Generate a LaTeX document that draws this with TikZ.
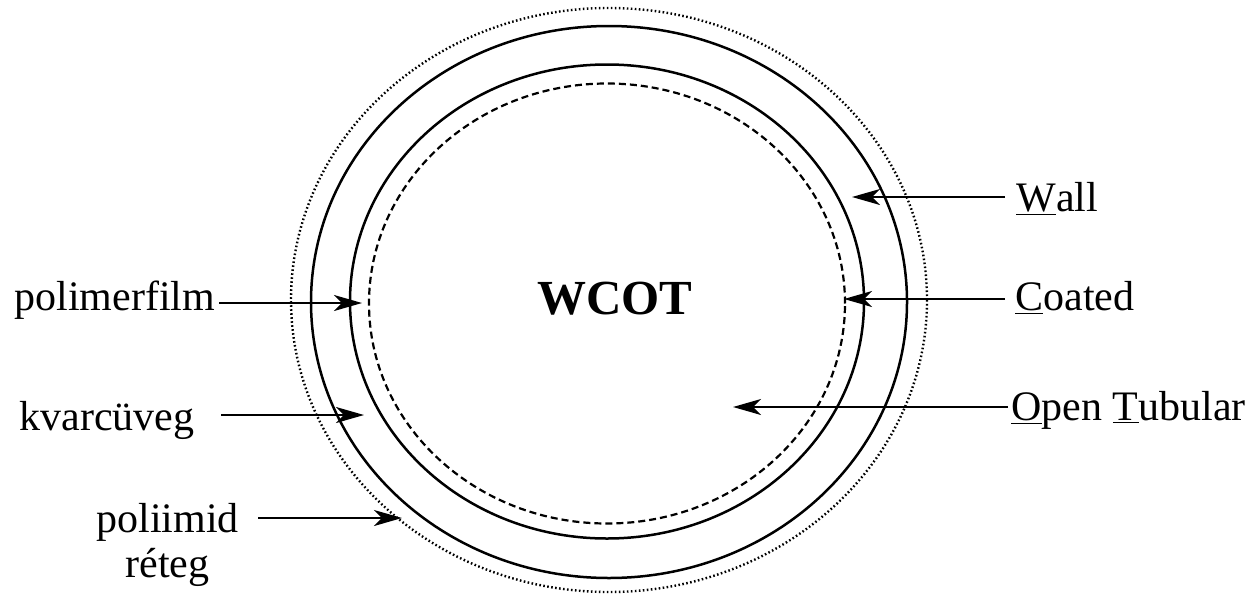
\documentclass[tikz,border=0pt]{standalone}
\usepackage{fontspec}
\setmainfont{Liberation Serif}
\usetikzlibrary{arrows.meta}
\begin{document}
\begin{tikzpicture}[x=0.5pt,y=-0.5pt,
  lbl/.style={inner sep=0pt,font=\fontsize{21}{22.5}\selectfont},
  arr/.style={line width=1.1pt,-{Stealth[length=14pt,width=8pt,inset=4pt]}},
  ring/.style={line width=1.25pt}]
\useasboundingbox (0,0) rectangle (1257,594);
% rings
\draw[line width=1.2pt,dash pattern=on 0.8pt off 1.2pt] (609,300) ellipse [x radius=318*0.5pt,y radius=292*0.5pt];
\draw[ring] (609,302) ellipse [x radius=298*0.5pt,y radius=276*0.5pt];
\draw[ring] (607,301.5) ellipse [x radius=257*0.5pt,y radius=237*0.5pt];
\draw[line width=1.1pt,dash pattern=on 3.5pt off 2pt] (607,303.5) ellipse [x radius=238*0.5pt,y radius=220*0.5pt];
% center title
\node[inner sep=0pt,anchor=base,font=\fontsize{24.5}{28}\selectfont\bfseries] (wcot) at (615,314) {WCOT};
% right labels
\node[lbl,anchor=base west] (wall) at (1016,211) {\underline{W}all};
\node[lbl,anchor=base west] (coated) at (1015,310) {\underline{C}oated};
\node[lbl,anchor=base west] (open) at (1011,420) {\underline{O}pen \underline{T}ubular};
% left labels
\node[lbl,anchor=base west] (polf) at (14,310) {polimerfilm};
\node[lbl,anchor=base west] (kvarc) at (19,430) {kvarcüveg};
\node[lbl,anchor=base,align=center] (polii) at (167.5,577) {poliimid\\r\'eteg};
% arrow coordinates
\coordinate (wallS) at (1005,197);  \coordinate (wallT) at (852,197);
\coordinate (coatS) at (1005,299);  \coordinate (coatT) at (844,299);
\coordinate (openS) at (1008,407);  \coordinate (openT) at (733,407);
\coordinate (polfS) at (219,303);   \coordinate (polfT) at (362,303);
\coordinate (kvarcS) at (221,415);  \coordinate (kvarcT) at (364,415);
\coordinate (poliiS) at (258,518);  \coordinate (poliiT) at (402,518);
\draw[arr] (wallS) -- (wallT);
\draw[arr] (coatS) -- (coatT);
\draw[arr] (openS) -- (openT);
\draw[arr] (polfS) -- (polfT);
\draw[arr] (kvarcS) -- (kvarcT);
\draw[arr] (poliiS) -- (poliiT);
\end{tikzpicture}
\end{document}
